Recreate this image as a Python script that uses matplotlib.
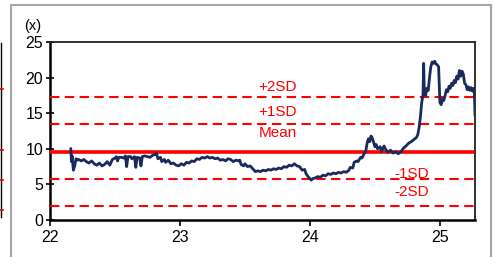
import matplotlib
matplotlib.use('Agg')
import matplotlib.pyplot as plt
from matplotlib import font_manager

# pick a narrow arial-like face if present
names = set(f.name for f in font_manager.fontManager.ttflist)
if 'Liberation Sans Narrow' in names:
    plt.rcParams['font.family'] = ['Liberation Sans Narrow', 'DejaVu Sans']
else:
    plt.rcParams['font.family'] = ['Liberation Sans', 'DejaVu Sans']

#-----------------------------------------
#--- Data
#-----------------------------------------
years = [22.16, 22.165, 22.17, 22.18, 22.19, 22.20, 22.21, 22.22, 22.24, 22.26,
         22.28, 22.30, 22.32, 22.34, 22.36, 22.38, 22.40, 22.42, 22.44, 22.46,
         22.48, 22.50, 22.51, 22.52, 22.53, 22.55, 22.57, 22.58, 22.59, 22.60,
         22.62, 22.63, 22.65, 22.66, 22.67, 22.69, 22.70, 22.71, 22.73, 22.75,
         22.77, 22.79, 22.81, 22.82, 22.83, 22.85, 22.86, 22.88, 22.89, 22.91,
         22.93, 22.95, 22.97, 22.99, 23.01, 23.03, 23.05, 23.07, 23.09, 23.11,
         23.13, 23.15, 23.17, 23.19, 23.21, 23.23, 23.25, 23.27, 23.29, 23.31,
         23.33, 23.35, 23.37, 23.39, 23.41, 23.43, 23.45, 23.46, 23.47, 23.49,
         23.50, 23.52, 23.54, 23.56, 23.58, 23.60, 23.62, 23.64, 23.66, 23.68,
         23.70, 23.72, 23.74, 23.76, 23.78, 23.80, 23.82, 23.84, 23.86, 23.88,
         23.90, 23.92, 23.94, 23.96, 23.97, 23.99, 24.01, 24.02, 24.04, 24.06,
         24.08, 24.10, 24.12, 24.14, 24.16, 24.18, 24.20, 24.22, 24.24, 24.26,
         24.28, 24.30, 24.31, 24.33, 24.34, 24.36, 24.37, 24.39, 24.40, 24.42,
         24.43, 24.44, 24.45, 24.46, 24.47, 24.48, 24.49, 24.50, 24.51, 24.52,
         24.54, 24.55, 24.57, 24.58, 24.60, 24.62, 24.64, 24.66, 24.68, 24.70,
         24.72, 24.74, 24.76, 24.78, 24.80, 24.82, 24.83, 24.84, 24.85, 24.86,
         24.87, 24.875, 24.88, 24.89, 24.90, 24.91, 24.92, 24.93, 24.94, 24.95,
         24.96, 24.97, 24.98, 24.99, 25.00, 25.01, 25.02, 25.03, 25.04, 25.05,
         25.06, 25.07, 25.08, 25.09, 25.10, 25.11, 25.12, 25.13, 25.14, 25.15,
         25.16, 25.17, 25.18, 25.19, 25.20, 25.21, 25.22, 25.23, 25.24, 25.25,
         25.26, 25.265, 25.27]
values = [10.0, 8.2, 9.0, 7.0, 7.6, 8.6, 8.4, 8.5, 8.3, 8.5,
          8.2, 8.0, 8.3, 7.9, 7.7, 8.0, 7.6, 7.8, 8.2, 7.7,
          8.5, 8.7, 8.9, 8.3, 8.8, 8.8, 8.7, 9.0, 7.5, 8.9,
          8.9, 8.6, 8.9, 7.4, 8.8, 8.7, 7.6, 8.9, 9.0, 8.9,
          8.8, 9.1, 9.2, 9.4, 8.6, 8.8, 8.2, 8.5, 8.1, 8.4,
          7.9, 8.0, 7.7, 7.6, 7.9, 7.7, 8.1, 8.0, 8.3, 8.2,
          8.6, 8.5, 8.8, 8.7, 8.9, 8.7, 8.8, 8.6, 8.7, 8.4,
          8.5, 8.3, 8.6, 8.5, 8.2, 8.4, 8.3, 8.4, 7.8, 7.6,
          7.9, 7.5, 7.6, 7.2, 6.8, 6.9, 6.8, 7.0, 6.9, 7.1,
          7.0, 7.2, 7.1, 7.3, 7.2, 7.5, 7.4, 7.7, 7.6, 7.9,
          7.6, 7.5, 7.0, 7.1, 6.5, 6.0, 5.6, 5.8, 5.9, 6.1,
          6.0, 6.3, 6.2, 6.5, 6.4, 6.6, 6.5, 6.7, 6.6, 6.8,
          6.7, 7.0, 7.4, 7.3, 8.1, 8.3, 8.2, 8.8, 8.7, 9.4,
          9.7, 10.8, 11.4, 11.0, 11.8, 11.5, 10.9, 10.3, 10.6, 10.0,
          10.3, 9.6, 10.4, 10.0, 9.5, 9.8, 9.4, 9.6, 9.3, 9.6,
          10.1, 10.4, 10.8, 11.0, 11.3, 11.6, 12.0, 13.0, 14.5, 16.5,
          17.6, 22.0, 18.0, 17.5, 18.5, 18.2, 20.0, 21.5, 22.2, 22.0,
          22.3, 21.9, 21.8, 21.5, 16.5, 16.2, 17.0, 16.8, 17.5, 18.3,
          18.0, 18.8, 18.5, 19.2, 18.9, 19.6, 19.3, 20.2, 19.8, 21.0,
          20.2, 20.9, 20.5, 19.2, 19.0, 18.3, 18.7, 18.2, 18.6, 18.1,
          18.5, 17.8, 14.8]

mean = 9.6
sd = 3.85
band_names = ['+2SD', '+1SD', 'Mean', '-1SD', '-2SD']
band_levels = [mean + 2*sd, mean + sd, mean, mean - sd, mean - 2*sd]
x_ticks = [22, 23, 24, 25]
y_ticks = [0, 5, 10, 15, 20, 25]

#-----------------------------------------
#--- Plot
#-----------------------------------------
W, H = 494, 257
fig = plt.figure(figsize=(W/100., H/100.), dpi=100)
ax = fig.add_axes([50./W, 1-220./H, 425./W, 178./H])

red = '#ff0000'
for name, lev in zip(band_names, band_levels):
    if name == 'Mean':
        ax.axhline(lev, color=red, lw=2.6, zorder=3)
    else:
        ax.axhline(lev, color=red, lw=1.5, dashes=(4.5, 2.6), zorder=3)

ax.plot(years, values, color='#1b2a5c', lw=2.0, zorder=4)

# band labels
lab_pos = {'+2SD': (23.75, 18.7), '+1SD': (23.75, 15.2), 'Mean': (23.75, 12.2),
           '-1SD': (24.78, 6.5), '-2SD': (24.78, 3.9)}
for name in band_names:
    lx, ly = lab_pos[name]
    ax.text(lx, ly, name, color=red, fontsize=11, ha='center', va='center', zorder=2)

ax.set_xlim(22, 25.27)
ax.set_ylim(0, 25)
ax.set_xticks(x_ticks)
ax.set_yticks(y_ticks)
ax.tick_params(axis='y', direction='inout', length=6, width=1.2, labelsize=11.5, pad=2)
ax.tick_params(axis='x', direction='out', length=4, width=1.2, labelsize=11.5, pad=3)
for s in ['left', 'bottom']:
    ax.spines[s].set_linewidth(1.8)
for s in ['top', 'right']:
    ax.spines[s].set_linewidth(1.3)
    ax.spines[s].set_color('#222222')

fig.text(33./W, 1-26./H, '(x)', fontsize=10.5, ha='center', va='center')

# grey frame of the report box
grey = '#a6a6a6'
fig.add_artist(plt.Line2D([10.5/W, 10.5/W], [0, 1-5./H], color=grey, lw=1.5))
fig.add_artist(plt.Line2D([10.5/W, 491./W], [1-5./H, 1-5./H], color=grey, lw=1.5))
fig.add_artist(plt.Line2D([491./W, 491./W], [0, 1-5./H], color=grey, lw=1.5))

# sliver of the neighbouring chart at the left edge
fig.add_artist(plt.Line2D([1./W, 1./W], [1-217./H, 1-43./H], color='black', lw=1.0))
for yy in [89, 150, 180, 210]:
    fig.add_artist(plt.Line2D([0, 3./W], [1-yy/float(H), 1-yy/float(H)], color=red, lw=1.2))

fig.savefig('out.png', dpi=100)
